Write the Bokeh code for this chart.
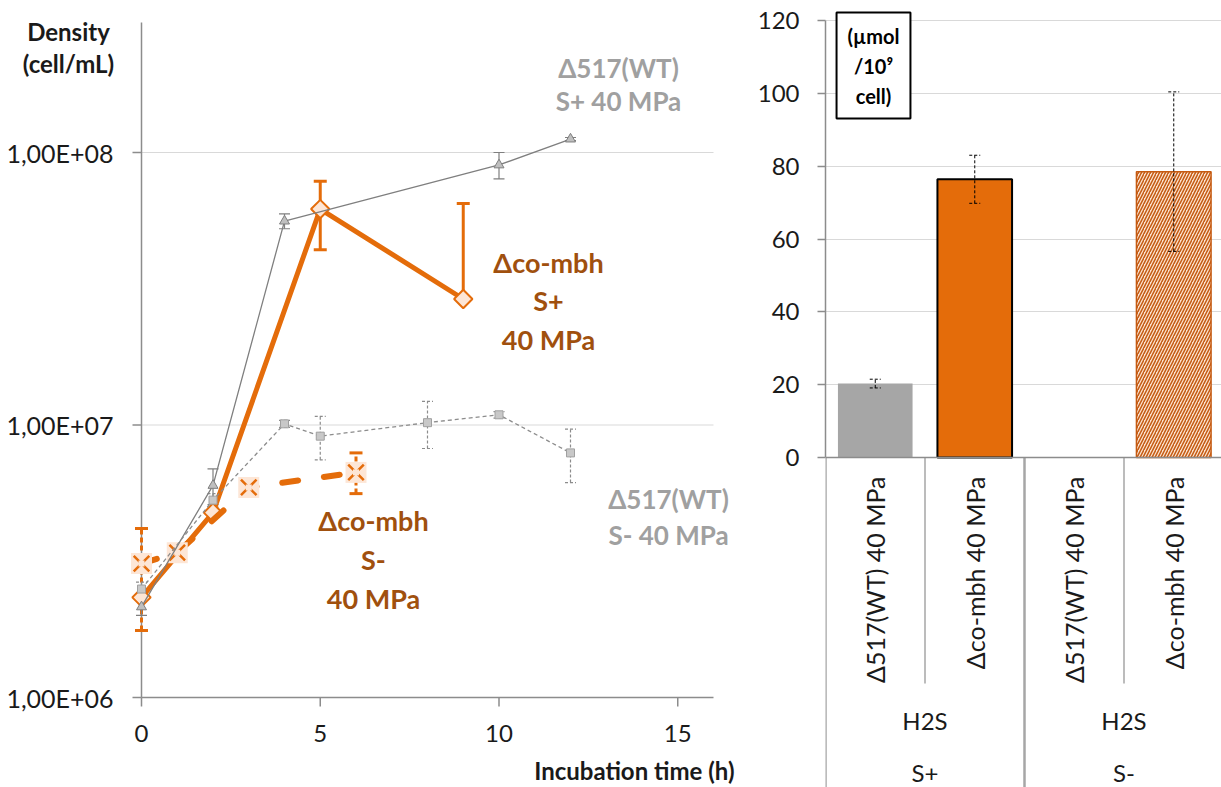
import math
from bokeh.plotting import figure
from bokeh.models import Range1d, FixedTicker, Label, Span
from bokeh.layouts import row
from bokeh.embed import file_html
from bokeh.resources import INLINE
from bokeh.core.properties import value

FONT = "Lato"

# ---------------- data: left panel (density, cell/mL) ----------------
t_wt_sp = [0, 2, 4, 10, 12]
d_wt_sp = [2.15e6, 6.0e6, 5.6e7, 9.0e7, 1.12e8]
e_wt_sp = [0.15e6, 0.9e6, 3.5e6, 1.0e7, 1.5e6]

t_wt_sm = [0, 2, 4, 5, 8, 10, 12]
d_wt_sm = [2.5e6, 5.3e6, 1.01e7, 9.1e6, 1.02e7, 1.09e7, 7.9e6]
e_wt_sm = [0.15e6, 0.3e6, 0.3e6, 1.65e6, 2.0e6, 0.3e6, 1.75e6]

t_co_sp = [0, 2, 5, 9]
d_co_sp = [2.33e6, 4.77e6, 6.2e7, 2.9e7]
e_co_sp_hi = [0, 0, 1.65e7, 3.6e7]
e_co_sp_lo = [0, 0, 1.8e7, 0]

t_co_sm = [0, 1, 3, 6]
d_co_sm = [3.1e6, 3.4e6, 5.9e6, 6.7e6]
e_co_sm_hi = [1.07e6, 0, 0, 1.2e6]
e_co_sm_lo = [1.34e6, 0, 0, 1.1e6]

x_ticks = [0, 5, 10, 15]
x_max = 16
y_ticks = [1e6, 1e7, 1e8]
y_tick_labels = ["1,00E+06", "1,00E+07", "1,00E+08"]
y_top = 3.0e8

# ---------------- data: right panel (H2S, umol / 1e9 cell) ----------------
bar_labels = ["Δ517(WT) 40 MPa", "Δco-mbh 40 MPa", "Δ517(WT) 40 MPa", "Δco-mbh 40 MPa"]
group_labels = ["H2S", "H2S"]
cond_labels = ["S+", "S-"]
h2s = [20.3, 76.4, None, 78.5]
h2s_err = [1.2, 6.6, None, 21.9]
bar_ticks = [0, 20, 40, 60, 80, 100, 120]

ORANGE = "#E46C0A"
PEACH = "#FDE6D6"
BROWN = "#A0500E"
GREY_TXT = "#A0A0A0"
AXIS = "#8C8C8C"
GRID = "#D9D9D9"
TXT = "#1a1a1a"

# ---------------- layout constants (pixels) ----------------
H = 787
W_LEFT = 748
W_RIGHT = 1221 - W_LEFT
X0 = 141            # pixel of t = 0
PX_H = 35.75        # pixels per hour
Y6 = 697            # pixel of 1e6
PX_DEC = 272.5      # pixels per decade


def lx(X):
    return (X - X0) / PX_H


def ly(Y):
    return 10 ** (6 + (Y6 - Y) / PX_DEC)


def errorbars(p, xs, ys, hi, lo, color, width, dash, cap, cap_dash="solid"):
    idx = [i for i in range(len(xs)) if (hi[i] or 0) > 0 or (lo[i] or 0) > 0]
    bx = [xs[i] for i in idx]
    up = [ys[i] + hi[i] for i in idx]
    dn = [ys[i] - lo[i] for i in idx]
    p.segment(x0=bx, y0=dn, x1=bx, y1=up, line_color=color, line_width=width, line_dash=dash)
    p.scatter(bx + bx, up + dn, marker="dash", size=cap, line_color=color,
              line_width=width, line_dash=cap_dash)


# ============================ LEFT PANEL ============================
p1 = figure(width=W_LEFT, height=H,
            x_range=Range1d(lx(0), lx(W_LEFT)), y_range=Range1d(ly(H), ly(0)),
            y_axis_type="log", x_axis_location=None, y_axis_location=None,
            output_backend="svg", toolbar_location=None,
            min_border_left=0, min_border_right=0, min_border_top=0, min_border_bottom=0)
p1.outline_line_color = None
p1.grid.visible = False

# grid lines
p1.segment(x0=[0] * 2, y0=y_ticks[1:], x1=[x_max] * 2, y1=y_ticks[1:],
           line_color=GRID, line_width=1.2)
# axis lines
p1.segment(x0=[0, 0], y0=[y_ticks[0], y_ticks[0]], x1=[0, x_max], y1=[y_top, y_ticks[0]],
           line_color=AXIS, line_width=1.5)
# tick marks (9 px outside)
tk_x = 9 / PX_H
tk_y = 10 ** (math.log10(y_ticks[0]) - 9 / PX_DEC)
p1.segment(x0=[0] * len(y_ticks), y0=y_ticks, x1=[-tk_x] * len(y_ticks), y1=y_ticks,
           line_color=AXIS, line_width=1.5)
p1.segment(x0=x_ticks, y0=[y_ticks[0]] * len(x_ticks), x1=x_ticks, y1=[tk_y] * len(x_ticks),
           line_color=AXIS, line_width=1.5)
# tick labels
p1.text(x=[0] * len(y_ticks), y=y_ticks, text=y_tick_labels, x_offset=-28,
        text_align="right", text_baseline="middle", text_font=value(FONT),
        text_font_size=value("25px"), text_color=TXT)
p1.text(x=x_ticks, y=[y_ticks[0]] * len(x_ticks), text=[str(t) for t in x_ticks], y_offset=36,
        text_align="center", text_baseline="middle", text_font=value(FONT),
        text_font_size=value("24px"), text_color=TXT)

# error bars
errorbars(p1, t_co_sp, d_co_sp, e_co_sp_hi, e_co_sp_lo, ORANGE, 3, "solid", 13)
errorbars(p1, t_co_sm, d_co_sm, e_co_sm_hi, e_co_sm_lo, ORANGE, 3, "5 3", 13)
errorbars(p1, t_wt_sp, d_wt_sp, e_wt_sp, e_wt_sp, "#7F7F7F", 1.2, "solid", 11)
errorbars(p1, t_wt_sm, d_wt_sm, e_wt_sm, e_wt_sm, "#8C8C8C", 1.2, "3 2", 11, "3 2")

# co-mbh S+ : thick solid orange, diamonds
p1.line(t_co_sp, d_co_sp, line_color=ORANGE, line_width=5, line_join="round")
p1.scatter(t_co_sp, d_co_sp, marker="square", angle=math.pi / 4, size=13,
           fill_color=PEACH, line_color=ORANGE, line_width=2)

# co-mbh S- : thick dashed orange, X markers on a peach square
p1.line(t_co_sm, d_co_sm, line_color=ORANGE, line_width=6, line_dash="16 26",
        line_cap="round")
p1.scatter(t_co_sm, d_co_sm, marker="square", size=21, fill_color=PEACH, line_color=None)
p1.scatter(t_co_sm, d_co_sm, marker="x", size=22, line_color=ORANGE, line_width=2.5)
p1.scatter(t_co_sm, d_co_sm, marker="square", size=6, fill_color=PEACH, line_color=None)

# WT S+ : thin solid grey, triangles
p1.line(t_wt_sp, d_wt_sp, line_color="#7F7F7F", line_width=1.3)
p1.scatter(t_wt_sp, d_wt_sp, marker="triangle", size=10, fill_color="#BFBFBF",
           line_color="#7F7F7F", line_width=1)

# WT S- : thin dashed grey, squares
p1.line(t_wt_sm, d_wt_sm, line_color="#8C8C8C", line_width=1.3, line_dash="4 3")
p1.scatter(t_wt_sm, d_wt_sm, marker="square", size=8, fill_color="#C8C8C8",
           line_color="#A0A0A0", line_width=1)


def text_lines(p, lines, X, centers, color, size, align="center", bold=True):
    for t, Y in zip(lines, centers):
        p.add_layout(Label(x=lx(X), y=ly(Y), text=t, text_align=align,
                           text_baseline="middle", text_font=FONT,
                           text_font_size=size, text_color=color,
                           text_font_style="bold" if bold else "normal"))


text_lines(p1, ["Density", "(cell/mL)"], 68, [31, 63], TXT, "24px")
text_lines(p1, ["Incubation time (h)"], 734, [770], TXT, "24px", align="right")
text_lines(p1, ["Δ517(WT)", "S+ 40 MPa"], 618, [67, 100], GREY_TXT, "26px")
text_lines(p1, ["Δco-mbh", "S+", "40 MPa"], 548, [262, 300, 339], BROWN, "27px")
text_lines(p1, ["Δco-mbh", "S-", "40 MPa"], 373, [520, 559, 598], BROWN, "27px")
text_lines(p1, ["Δ517(WT)", "S- 40 MPa"], 668, [498, 534], GREY_TXT, "26px")

# ============================ RIGHT PANEL ============================
RX0 = 825           # pixel of the bar axis
R_CAT = 99.5        # pixels per category
RY0 = 457           # pixel of value 0
PPU = (RY0 - 20) / 120.0


def ry(px_below_axis):
    return -px_below_axis / PPU


p2 = figure(width=W_RIGHT, height=H,
            x_range=Range1d(0, (1221 - RX0) / R_CAT), y_range=Range1d(ry(H - RY0), RY0 / PPU),
            x_axis_location=None, output_backend="svg", toolbar_location=None,
            min_border_left=RX0 - W_LEFT, min_border_right=0, min_border_top=0,
            min_border_bottom=0)
p2.outline_line_color = None
p2.xgrid.visible = False
p2.ygrid.ticker = FixedTicker(ticks=bar_ticks[1:])
p2.ygrid.grid_line_color = GRID
p2.ygrid.grid_line_width = 1.2

ya = p2.yaxis[0]
ya.ticker = FixedTicker(ticks=bar_ticks)
ya.bounds = (0, 120)
ya.axis_line_color = AXIS
ya.axis_line_width = 1.5
ya.major_tick_line_color = AXIS
ya.major_tick_line_width = 1.5
ya.minor_tick_line_color = None
ya.major_tick_in = 0
ya.major_tick_out = 8
ya.major_label_standoff = 18
ya.major_label_text_font = FONT
ya.major_label_text_font_size = "24px"
ya.major_label_text_color = TXT

xc = [i + 0.5 for i in range(len(bar_labels))]
styles = [
    dict(fill_color="#A6A6A6", line_color=None),
    dict(fill_color=ORANGE, line_color="black", line_width=2),
    dict(fill_color="#A6A6A6", line_color=None),
    dict(fill_color="#FBE2CF", line_color="#C55A11", line_width=1.5,
         hatch_pattern="/", hatch_color="#C55A11", hatch_scale=6, hatch_weight=1.5),
]
for i, v in enumerate(h2s):
    if v is None:
        continue
    p2.vbar(x=[xc[i]], top=[v], bottom=0, width=0.75, **styles[i])

bi = [i for i, v in enumerate(h2s) if v is not None]
errorbars(p2, [xc[i] for i in bi], [h2s[i] for i in bi], [h2s_err[i] for i in bi],
          [h2s_err[i] for i in bi], "black", 1, "3 2", 11, "3 2")

# zero line
p2.add_layout(Span(location=0, dimension="width", line_color=AXIS, line_width=1.5))

# category table below the bars
n = len(bar_labels)
short_x = [i for i in range(1, n) if i % 2 == 1]
long_x = [i for i in range(0, n + 1) if i % 2 == 0]
y_bot = ry(H - RY0)
p2.segment(x0=long_x, y0=[0] * len(long_x), x1=long_x, y1=[y_bot] * len(long_x),
           line_color="#A6A6A6", line_width=2.5)
p2.segment(x0=short_x, y0=[0] * len(short_x), x1=short_x, y1=[ry(226)] * len(short_x),
           line_color="#A6A6A6", line_width=1.5)

p2.text(x=xc, y=[ry(19)] * n, text=bar_labels, angle=math.pi / 2,
        text_align="right", text_baseline="middle", text_font=value(FONT),
        text_font_size=value("25px"), text_color=TXT)
gx = [(xc[2 * k] + xc[2 * k + 1]) / 2 for k in range(len(group_labels))]
p2.text(x=gx, y=[ry(263)] * len(gx), text=group_labels, text_align="center",
        text_baseline="middle", text_font=value(FONT), text_font_size=value("24px"),
        text_color=TXT)
p2.text(x=gx, y=[ry(315)] * len(gx), text=cond_labels, text_align="center",
        text_baseline="middle", text_font=value(FONT), text_font_size=value("24px"),
        text_color=TXT)

# unit box
p2.add_layout(Label(x=(873 - RX0) / R_CAT, y=(RY0 - 65) / PPU, text="(µmol\n/10⁹\ncell)",
                    text_align="center", text_baseline="middle", text_font=FONT,
                    text_font_size="20px", text_font_style="bold", text_line_height=1.25,
                    text_color="black", padding=11, border_line_color="black",
                    border_line_width=2, background_fill_color="white"))

layout = row(p1, p2, spacing=0)
open("out.html", "w").write(file_html(layout, INLINE))
